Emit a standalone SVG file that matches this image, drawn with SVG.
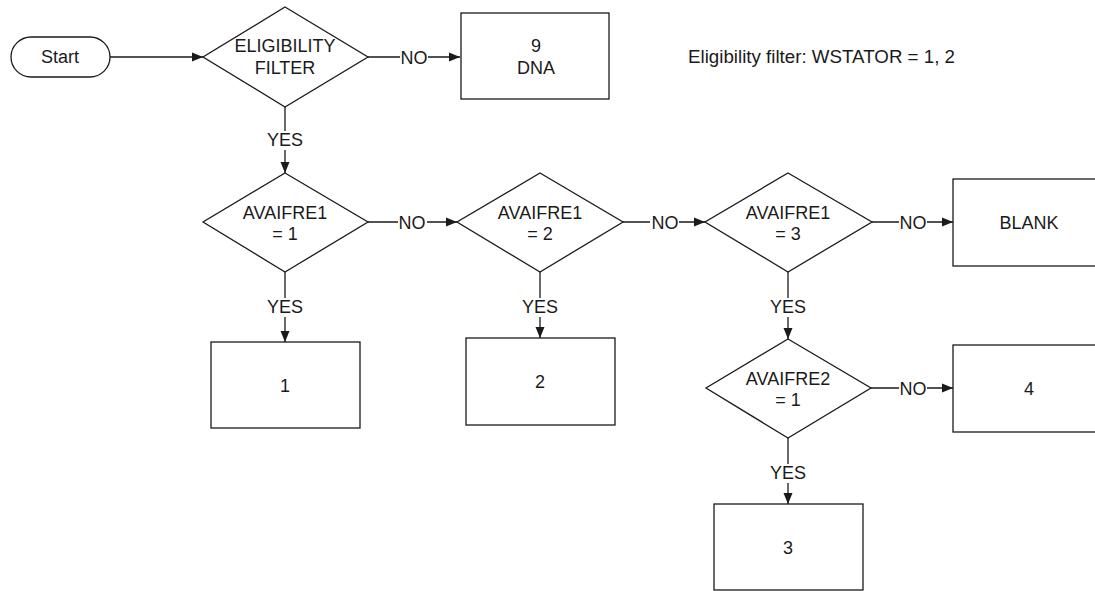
<svg xmlns="http://www.w3.org/2000/svg" width="1095" height="591" viewBox="0 0 1095 591">
<style>
.s{fill:#fff;stroke:#1a1a1a;stroke-width:1.3}
.c{fill:none;stroke:#1a1a1a;stroke-width:1.3}
text{font-family:"Liberation Sans",Arial,sans-serif;font-size:18px;fill:#1a1a1a;text-anchor:middle}
.l{text-anchor:start}
</style>
<defs>
<marker id="a" markerUnits="userSpaceOnUse" markerWidth="12" markerHeight="10" refX="11" refY="5" orient="auto"><path d="M0,0.5 L11,5 L0,9.5 z" fill="#1a1a1a"/></marker>
</defs>
<rect width="1095" height="591" fill="#fff"/>
<g id="connectors">
<path class="c" d="M110,57 H203" marker-end="url(#a)"/>
<path class="c" d="M368,57 H400 M428,57 H460" marker-end="url(#a)"/>
<path class="c" d="M285,107 V131 M285,150 V173" marker-end="url(#a)"/>
<path class="c" d="M368,222 H398 M427,222 H457" marker-end="url(#a)"/>
<path class="c" d="M623,222 H650 M679,222 H705" marker-end="url(#a)"/>
<path class="c" d="M872,222 H899 M927,222 H953" marker-end="url(#a)"/>
<path class="c" d="M871,388 H899 M927,388 H953" marker-end="url(#a)"/>
<path class="c" d="M285,272 V298 M285,317 V342" marker-end="url(#a)"/>
<path class="c" d="M540,272 V298 M540,317 V338" marker-end="url(#a)"/>
<path class="c" d="M788,272 V298 M788,317 V339" marker-end="url(#a)"/>
<path class="c" d="M788,438 V464 M788,483 V504" marker-end="url(#a)"/>
<text x="414" y="64">NO</text>
<text x="285" y="146">YES</text>
<text x="412" y="229">NO</text>
<text x="665" y="229">NO</text>
<text x="913" y="229">NO</text>
<text x="913" y="395">NO</text>
<text x="285" y="313">YES</text>
<text x="540" y="313">YES</text>
<text x="788" y="313">YES</text>
<text x="788" y="479">YES</text>
</g>
<g id="start"><rect class="s" x="11" y="37" width="99" height="40" rx="20"/><text x="60" y="63">Start</text></g>
<g id="elig"><path class="s" d="M285,7 L368,57 L285,107 L203,57 z"/><text x="285" y="52">ELIGIBILITY</text><text x="285" y="74">FILTER</text></g>
<g id="dna"><rect class="s" x="461" y="13" width="148" height="86"/><text x="536" y="52">9</text><text x="536" y="74">DNA</text></g>
<g id="note"><text class="l" x="688" y="63" textLength="267" lengthAdjust="spacingAndGlyphs">Eligibility filter: WSTATOR = 1, 2</text></g>
<g id="d1"><path class="s" d="M285,173 L368,222 L285,272 L203,222 z"/><text x="285" y="219">AVAIFRE1</text><text x="285" y="240">= 1</text></g>
<g id="d2"><path class="s" d="M540,173 L623,222 L540,272 L457,222 z"/><text x="540" y="219">AVAIFRE1</text><text x="540" y="240">= 2</text></g>
<g id="d3"><path class="s" d="M788,173 L872,222 L788,272 L705,222 z"/><text x="788" y="219">AVAIFRE1</text><text x="788" y="240">= 3</text></g>
<g id="d4"><path class="s" d="M788,339 L871,388 L788,438 L706,388 z"/><text x="788" y="385">AVAIFRE2</text><text x="788" y="406">= 1</text></g>
<g id="b1"><rect class="s" x="211" y="342" width="149" height="86"/><text x="285" y="392">1</text></g>
<g id="b2"><rect class="s" x="466" y="338" width="149" height="87"/><text x="540" y="388">2</text></g>
<g id="blank"><rect class="s" x="953" y="179" width="152" height="87"/><text x="1029" y="229">BLANK</text></g>
<g id="b4"><rect class="s" x="953" y="345" width="152" height="87"/><text x="1029" y="395">4</text></g>
<g id="b3"><rect class="s" x="714" y="504" width="149" height="86"/><text x="788" y="554">3</text></g>
</svg>
